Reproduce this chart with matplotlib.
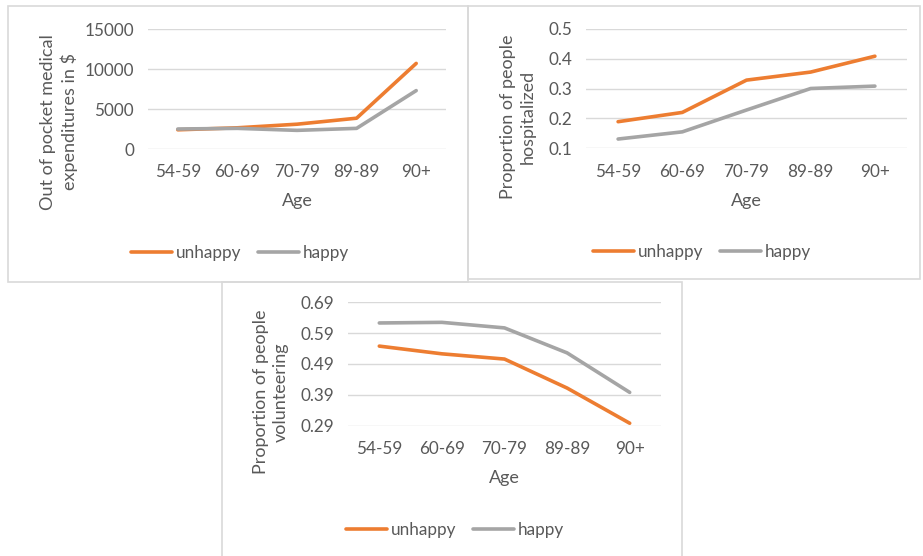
import matplotlib
matplotlib.use("Agg")
import matplotlib.pyplot as plt
from matplotlib.patches import Rectangle

# data
ages = ["54-59", "60-69", "70-79", "89-89", "90+"]

expend_unhappy = [2400, 2650, 3100, 3850, 10700]
expend_happy = [2500, 2580, 2330, 2580, 7300]

hosp_unhappy = [0.189, 0.220, 0.328, 0.355, 0.408]
hosp_happy = [0.131, 0.155, 0.228, 0.300, 0.308]

vol_unhappy = [0.548, 0.523, 0.506, 0.412, 0.298]
vol_happy = [0.623, 0.625, 0.607, 0.526, 0.398]

expend_ticks = [0, 5000, 10000, 15000]
hosp_ticks = [0.1, 0.2, 0.3, 0.4, 0.5]
vol_ticks = [0.29, 0.39, 0.49, 0.59, 0.69]

ORANGE = "#ED7D31"
GRAY = "#A5A5A5"
TXT = "#595959"
GRID = "#D9D9D9"

W, H = 923, 556
plt.rcParams['font.family'] = ['Lato', 'DejaVu Sans']

fig = plt.figure(figsize=(W / 100, H / 100), dpi=100)


def fx(x):
    return x / W


def fy(y):
    return 1 - y / H


def panel(box, plot, ylab, ylab_xy, yticks, ylabels, unhappy, happy, age_y, leg_xy):
    # outer border of the chart
    x0, y0, x1, y1 = box
    fig.patches.append(Rectangle((fx(x0), fy(y1)), fx(x1 - x0), (y1 - y0) / H,
                                 transform=fig.transFigure, fill=False,
                                 edgecolor=GRID, lw=1.2))
    px0, py0, px1, py1 = plot
    ax = fig.add_axes([fx(px0), fy(py1), fx(px1 - px0), (py1 - py0) / H])
    x = list(range(len(ages)))
    ax.plot(x, unhappy, color=ORANGE, lw=2.6, label="unhappy", solid_capstyle="round")
    ax.plot(x, happy, color=GRAY, lw=2.6, label="happy", solid_capstyle="round")
    ax.set_xlim(-0.5, len(ages) - 0.5)
    ax.set_ylim(yticks[0], yticks[-1])
    ax.set_yticks(yticks, ylabels)
    ax.set_xticks(x, ages)
    ax.grid(axis="y", color=GRID, lw=1)
    ax.set_axisbelow(True)
    for s in ax.spines.values():
        s.set_visible(False)
    ax.tick_params(length=0, labelsize=12.3, labelcolor=TXT)
    ax.tick_params(axis="x", pad=11)
    ax.tick_params(axis="y", pad=10)
    fig.text(fx((px0 + px1) / 2), fy(age_y), "Age", ha="center", va="center",
             fontsize=13, color=TXT)
    fig.text(fx(ylab_xy[0]), fy(ylab_xy[1]), ylab, rotation=90, ha="center",
             va="center", fontsize=13, color=TXT, linespacing=1.3,
             multialignment="center")
    ax.legend(loc="center", bbox_to_anchor=(fx(leg_xy[0]), fy(leg_xy[1])),
              bbox_transform=fig.transFigure, ncol=2, frameon=False,
              fontsize=12.3, labelcolor=TXT, handlelength=2.4,
              handletextpad=0.2, columnspacing=1.0)
    return ax


panel((8, 6, 468, 282), (148, 29, 446, 149),
      "Out of pocket medical\nexpenditures in $", (59, 122),
      expend_ticks, [str(t) for t in expend_ticks],
      expend_unhappy, expend_happy, 201, (240, 253))

panel((468, 6, 920, 279), (586, 28.7, 907, 148.3),
      "Proportion of people\nhospitalized", (518, 117),
      hosp_ticks, ["%.1f" % t for t in hosp_ticks],
      hosp_unhappy, hosp_happy, 201, (702, 252))

panel((222, 282, 682, 560), (348, 302.3, 661, 425.7),
      "Proportion of people\nvolunteering", (271, 392),
      vol_ticks, ["%.2f" % t for t in vol_ticks],
      vol_unhappy, vol_happy, 478, (455, 530))

fig.savefig("out.png", dpi=100)
